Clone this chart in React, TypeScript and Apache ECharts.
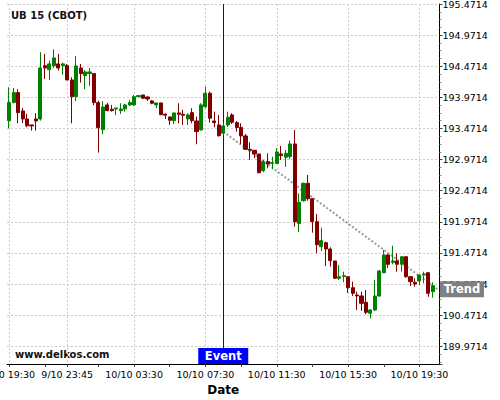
import React, { useEffect, useRef } from 'react';
import * as echarts from 'echarts';

// 15-minute bars (one extra empty slot at the end for the trend projection)
const TIMES = [
  '9/10 19:30','9/10 19:45','9/10 20:00','9/10 20:15','9/10 20:30','9/10 20:45','9/10 21:00','9/10 21:15',
  '9/10 21:30','9/10 21:45','9/10 22:00','9/10 22:15','9/10 22:30','9/10 23:45',
  '10/10 00:00','10/10 00:15','10/10 00:30','10/10 00:45','10/10 01:00','10/10 01:15','10/10 01:30','10/10 01:45',
  '10/10 02:00','10/10 02:15','10/10 02:30','10/10 02:45','10/10 03:00','10/10 03:15','10/10 03:30','10/10 03:45',
  '10/10 04:00','10/10 04:15','10/10 04:30','10/10 04:45','10/10 05:00','10/10 05:15','10/10 05:30','10/10 05:45',
  '10/10 06:00','10/10 06:15','10/10 06:30','10/10 06:45','10/10 07:00','10/10 07:15','10/10 07:30','10/10 07:45',
  '10/10 08:00','10/10 08:15','10/10 08:30','10/10 08:45','10/10 09:00','10/10 09:15','10/10 09:30','10/10 09:45',
  '10/10 10:00','10/10 10:15','10/10 10:30','10/10 10:45','10/10 11:00','10/10 11:15','10/10 11:30','10/10 11:45',
  '10/10 12:00','10/10 12:15','10/10 12:30','10/10 12:45','10/10 13:00','10/10 13:15','10/10 13:30','10/10 13:45',
  '10/10 14:00','10/10 14:15','10/10 14:30','10/10 14:45','10/10 15:00','10/10 15:15','10/10 15:30','10/10 15:45',
  '10/10 16:00','10/10 16:15','10/10 16:30','10/10 16:45','10/10 17:00','10/10 17:15','10/10 17:30','10/10 17:45',
  '10/10 18:00','10/10 18:15','10/10 18:30','10/10 18:45','10/10 19:00','10/10 19:15','10/10 19:30','10/10 19:45',
  '10/10 20:00','10/10 20:15','10/10 20:30',
];

const OPEN = [
  193.597, 193.887, 194.048, 193.753, 193.624, 193.528, 193.624, 193.624, 194.481, 194.417,
  194.481, 194.509, 194.481, 194.481, 194.251, 193.983, 194.444, 194.320, 194.353, 194.353,
  193.887, 193.453, 193.850, 193.780, 193.785, 193.758, 193.785, 193.850, 193.850, 193.983,
  194.010, 193.978, 193.914, 193.850, 193.882, 193.700, 193.657, 193.597, 193.721, 193.700,
  193.624, 193.726, 193.592, 193.448, 193.822, 194.038, 193.592, 193.528, 193.395, 193.528,
  193.689, 193.565, 193.488, 193.351, 193.137, 193.121, 193.062, 192.794, 192.939, 192.912,
  192.909, 193.062, 193.009, 193.019, 193.223, 191.945, 192.311, 192.591, 192.343, 191.974,
  191.572, 191.637, 191.535, 191.342, 191.064, 191.090, 191.090, 190.913, 190.796, 190.780,
  190.678, 190.502, 190.555, 190.780, 191.154, 191.439, 191.321, 191.342, 191.289, 191.411,
  191.090, 191.000, 191.021, 191.117, 191.154, 190.849,
];
const CLOSE = [
  193.887, 194.048, 193.726, 193.624, 193.516, 193.512, 193.592, 194.444, 194.444, 194.509,
  194.605, 194.444, 194.509, 194.251, 193.983, 194.476, 194.353, 194.380, 194.380, 193.887,
  193.484, 193.817, 193.758, 193.758, 193.801, 193.785, 193.850, 193.887, 193.983, 193.999,
  193.957, 193.946, 193.877, 193.882, 193.694, 193.684, 193.603, 193.721, 193.700, 193.684,
  193.689, 193.597, 193.421, 193.850, 194.038, 193.636, 193.565, 193.356, 193.512, 193.652,
  193.571, 193.488, 193.351, 193.137, 193.121, 193.062, 192.761, 192.939, 192.901, 192.923,
  193.094, 193.035, 193.073, 193.223, 191.974, 192.286, 192.591, 192.343, 191.974, 191.604,
  191.669, 191.535, 191.347, 191.064, 191.090, 191.106, 190.913, 190.823, 190.780, 190.662,
  190.518, 190.555, 190.780, 191.182, 191.439, 191.289, 191.342, 191.289, 191.411, 191.090,
  191.010, 190.973, 191.117, 191.133, 190.823, 190.945,
];
const LOW = [
  193.475, 193.874, 193.555, 193.560, 193.490, 193.437, 193.437, 193.597, 194.267, 194.251,
  194.444, 194.401, 194.337, 194.251, 193.555, 193.909, 194.208, 194.102, 194.155, 193.845,
  193.083, 193.379, 193.748, 193.742, 193.684, 193.705, 193.742, 193.833, 193.833, 193.970,
  193.946, 193.914, 193.861, 193.796, 193.684, 193.624, 193.528, 193.544, 193.555, 193.528,
  193.528, 193.555, 193.218, 193.437, 193.796, 193.565, 193.490, 193.340, 193.367, 193.496,
  193.544, 193.421, 193.223, 193.126, 192.966, 192.993, 192.752, 192.768, 192.832, 192.816,
  192.901, 192.966, 192.853, 192.977, 191.894, 191.808, 192.295, 192.311, 191.797, 191.466,
  191.503, 191.262, 191.251, 191.053, 191.037, 191.000, 190.828, 190.780, 190.555, 190.539,
  190.486, 190.421, 190.539, 190.764, 191.144, 191.230, 191.289, 191.170, 191.170, 191.074,
  190.940, 190.929, 190.956, 190.984, 190.768, 190.752,
];
const HIGH = [
  194.134, 194.122, 194.102, 193.801, 193.705, 193.528, 193.716, 194.696, 194.669, 194.562,
  194.744, 194.669, 194.530, 194.509, 194.294, 194.637, 194.509, 194.412, 194.444, 194.353,
  193.919, 193.909, 193.882, 193.850, 193.801, 193.877, 193.866, 193.930, 194.010, 194.010,
  194.010, 193.986, 193.930, 193.882, 193.882, 193.716, 193.657, 193.726, 193.877, 193.769,
  193.716, 193.796, 193.661, 193.877, 194.144, 194.064, 193.742, 193.689, 193.560, 193.742,
  193.716, 193.592, 193.555, 193.383, 193.250, 193.126, 193.062, 192.966, 193.073, 193.019,
  193.153, 193.191, 193.126, 193.276, 193.448, 192.430, 192.601, 192.724, 192.350, 192.098,
  191.877, 191.653, 191.562, 191.342, 191.278, 191.170, 191.090, 191.010, 190.849, 190.849,
  190.876, 190.566, 191.037, 191.198, 191.519, 191.455, 191.588, 191.466, 191.411, 191.411,
  191.090, 191.064, 191.128, 191.170, 191.154, 191.000,
];

const TICK_LABELS = ['9/10 19:30', '9/10 23:45', '10/10 03:30', '10/10 07:30', '10/10 11:30', '10/10 15:30', '10/10 19:30'];
const MINOR_TICKS = ['9/10 21:30', '10/10 01:30', '10/10 05:30', '10/10 09:30', '10/10 13:30', '10/10 17:30'];

const Y_BASE = 189.9714; // first labelled y tick
const Y_STEP = 0.5;
const Y_BOTTOM = 189.687;
const Y_TOP = 195.4714;

const EVENT_TIME = '10/10 08:30';
const TREND_START = 193.42;
const TREND_END_TIME = '10/10 20:30';
const TREND_END = 190.889;

const UP = '#008000';
const DOWN = '#800000';

export default function App() {
  const ref = useRef<HTMLDivElement>(null);
  useEffect(() => {
    if (!ref.current) return;
    const chart = echarts.init(ref.current, null, { renderer: 'svg' });
    const candles = OPEN.map((o, i) => [o - Y_BASE, CLOSE[i] - Y_BASE, LOW[i] - Y_BASE, HIGH[i] - Y_BASE]);
    const isLabel = (_i: number, v: string) => TICK_LABELS.includes(v);
    const isTick = (_i: number, v: string) => TICK_LABELS.includes(v) || MINOR_TICKS.includes(v);
    chart.setOption({
      animation: false,
      backgroundColor: '#ffffff',
      textStyle: { fontFamily: 'DejaVu Sans' },
      title: {
        text: 'UB 15 (CBOT)',
        left: 11,
        top: 10,
        padding: 0,
        textStyle: { fontSize: 10, fontWeight: 'bold', color: '#111', fontFamily: 'DejaVu Sans' },
      },
      graphic: [
        {
          type: 'text',
          left: 15,
          top: 349,
          style: { text: 'www.delkos.com', font: 'bold 10px "DejaVu Sans"', fill: '#111' },
        },
      ],
      grid: { left: 7, right: 60.5, top: 4, bottom: 36, containLabel: false, outerBoundsMode: 'none' },
      xAxis: {
        type: 'category',
        data: TIMES,
        boundaryGap: true,
        axisLine: { show: true, onZero: false, lineStyle: { color: '#000', width: 1 } },
        axisTick: { show: true, alignWithLabel: true, length: 3, interval: isTick, lineStyle: { color: '#444' } },
        axisLabel: { interval: isLabel, fontSize: 9.5, color: '#000', margin: 5, fontFamily: 'DejaVu Sans' },
        splitLine: { show: true, alignWithLabel: true, interval: isLabel, lineStyle: { type: [2, 2], color: '#cccccc', width: 1 } },
        name: 'Date',
        nameLocation: 'middle',
        nameGap: 19,
        nameTextStyle: { fontWeight: 'bold', fontSize: 12, color: '#000', fontFamily: 'DejaVu Sans' },
      },
      yAxis: {
        type: 'value',
        position: 'right',
        min: Y_BOTTOM - Y_BASE,
        max: Y_TOP - Y_BASE,
        splitNumber: 11,
        minInterval: Y_STEP,
        maxInterval: Y_STEP,
        axisLine: { show: true, lineStyle: { color: '#000', width: 1 } },
        axisTick: { show: true, length: 3, lineStyle: { color: '#444' } },
        minorTick: { show: true, splitNumber: 4, length: 2, lineStyle: { color: '#888' } },
        axisLabel: {
          margin: 3,
          fontSize: 9.5,
          color: '#000',
          fontFamily: 'DejaVu Sans',
          padding: [2, 0, 0, 0],
          formatter: (v: number) => (v < -1e-6 ? '' : (v + Y_BASE).toFixed(4)),
        },
        splitLine: { show: true, lineStyle: { type: [2, 2], color: '#cccccc', width: 1 } },
      },
      series: [
        {
          type: 'candlestick',
          z: 5,
          data: candles,
          barWidth: 3.6,
          itemStyle: { color: UP, color0: DOWN, borderColor: UP, borderColor0: DOWN, borderWidth: 1 },
          markLine: {
            silent: true,
            symbol: ['none', 'none'],
            label: { show: false },
            data: [
              { xAxis: EVENT_TIME, lineStyle: { color: '#0000ff', width: 1, type: 'solid' } },
              [
                { coord: [EVENT_TIME, TREND_START - Y_BASE], lineStyle: { color: '#9a9a9a', width: 2, type: [2, 2] } },
                { coord: [TREND_END_TIME, TREND_END - Y_BASE] },
              ],
            ],
          },
          markPoint: {
            silent: true,
            data: [
              {
                coord: [EVENT_TIME, Y_BOTTOM - Y_BASE + 0.001],
                symbol: 'rect',
                symbolSize: [50, 16],
                symbolOffset: [0, -8],
                itemStyle: { color: '#0000ff' },
                label: { show: true, position: 'inside', formatter: 'Event', color: '#fff', fontWeight: 'bold', fontSize: 11.5, fontFamily: 'DejaVu Sans' },
              },
              {
                coord: [TREND_END_TIME, TREND_END - Y_BASE],
                symbol: 'rect',
                symbolSize: [44, 16],
                symbolOffset: [24.7, 0],
                itemStyle: { color: '#808080' },
                label: { show: true, position: 'inside', formatter: 'Trend', color: '#fff', fontWeight: 'bold', fontSize: 11.5, fontFamily: 'DejaVu Sans' },
              },
            ],
          },
        },
      ],
    });
    return () => chart.dispose();
  }, []);
  return <div ref={ref} style={{ position: 'fixed', left: 0, top: 0, width: 500, height: 400, background: '#fff' }} />;
}
